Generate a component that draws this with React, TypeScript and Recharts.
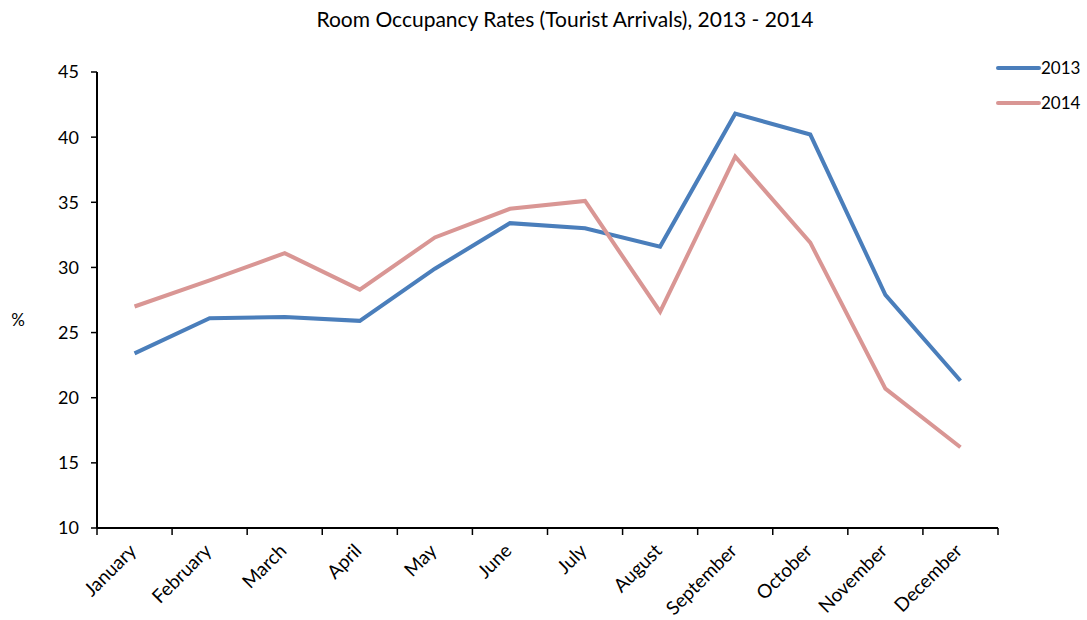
import React from "react";
import { LineChart, Line, XAxis, YAxis, Legend } from "recharts";

const months = ["January","February","March","April","May","June","July","August","September","October","November","December"];
const occ2013 = [23.4, 26.1, 26.2, 25.9, 29.9, 33.4, 33.0, 31.6, 41.8, 40.2, 27.9, 21.3];
const occ2014 = [27.0, 29.0, 31.1, 28.3, 32.3, 34.5, 35.1, 26.6, 38.5, 31.9, 20.7, 16.2];
const yTicks = [10, 15, 20, 25, 30, 35, 40, 45];

const data = months.map((m, i) => ({ month: m, y2013: occ2013[i], y2014: occ2014[i] }));

const FONT = "Lato, 'Liberation Sans', sans-serif";
const W = 1087;
const H = 620;
const M = { top: 72, right: 89, bottom: 0, left: 20 };
const Y_W = 77;
const X_H = 92;
const PLOT_W = W - M.left - Y_W - M.right;
const BAND = PLOT_W / months.length;

const XTick = (props: any) => {
  const { x, y, payload, index } = props;
  const y0 = y - 8;
  const tx = x + 3;
  const ty = y0 + 24;
  return (
    <g>
      <line x1={x - BAND / 2} y1={y0} x2={x - BAND / 2} y2={y0 + 7} stroke="#000" strokeWidth={1.5} />
      {index === months.length - 1 && (
        <line x1={x + BAND / 2} y1={y0} x2={x + BAND / 2} y2={y0 + 7} stroke="#000" strokeWidth={1.5} />
      )}
      <text
        x={tx}
        y={ty}
        textAnchor="end"
        fontFamily={FONT}
        fontSize={19}
        fill="#000"
        transform={`rotate(-45 ${tx} ${ty})`}
      >
        {payload.value}
      </text>
    </g>
  );
};

const LegendContent = (props: any) => {
  const { payload } = props;
  return (
    <svg width={90} height={60} style={{ overflow: "visible", display: "block" }}>
      {(payload || []).map((p: any, i: number) => (
        <g key={p.value} transform={`translate(0 ${i * 35 + 2})`}>
          <line x1={2} y1={0} x2={43} y2={0} stroke={p.color} strokeWidth={4} strokeLinecap="round" />
          <text x={45} y={6} fontFamily={FONT} fontSize={17} fill="#000">{p.value}</text>
        </g>
      ))}
    </svg>
  );
};

export default function App() {
  return (
    <div style={{ position: "absolute", left: 0, top: 0, width: W, height: H, background: "#fff" }}>
      <LineChart width={W} height={H} data={data} margin={M}>
        <text x={565} y={27} textAnchor="middle" fontFamily={FONT} fontSize={21} fill="#000">
          Room Occupancy Rates (Tourist Arrivals), 2013 - 2014
        </text>
        <text x={18} y={326} textAnchor="middle" fontFamily={FONT} fontSize={17} fill="#000">%</text>
        <XAxis
          dataKey="month"
          height={X_H}
          interval={0}
          padding={{ left: BAND / 2, right: BAND / 2 }}
          tickLine={false}
          axisLine={{ stroke: "#000", strokeWidth: 2 }}
          tick={<XTick />}
        />
        <YAxis
          width={Y_W}
          domain={[10, 45]}
          ticks={yTicks}
          interval={0}
          tickSize={6}
          tickMargin={12}
          axisLine={{ stroke: "#000", strokeWidth: 2 }}
          tickLine={{ stroke: "#000", strokeWidth: 1.5 }}
          tick={{ fill: "#000", fontFamily: FONT, fontSize: 18 }}
        />
        <Legend
          layout="vertical"
          align="center"
          verticalAlign="middle"
          content={<LegendContent />}
          wrapperStyle={{ position: "absolute", left: 996, top: 66, width: 90, height: 60 }}
        />
        <Line
          type="linear"
          dataKey="y2013"
          name="2013"
          stroke="#4a7ebb"
          strokeWidth={4}
          dot={false}
          isAnimationActive={false}
        />
        <Line
          type="linear"
          dataKey="y2014"
          name="2014"
          stroke="#d99694"
          strokeWidth={4}
          dot={false}
          isAnimationActive={false}
        />
      </LineChart>
    </div>
  );
}
